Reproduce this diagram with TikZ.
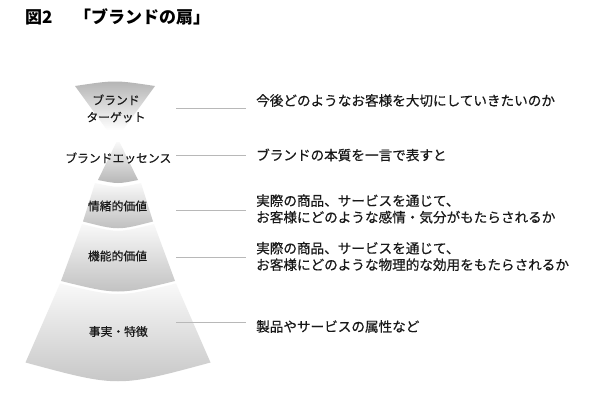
\documentclass[tikz,border=0pt]{standalone}
\usepackage{fontspec}
\setmainfont{Noto Sans CJK JP}
\newfontfamily\medfont{Noto Sans CJK JP}[FakeBold=0.5]
\definecolor{lineg}{gray}{0.72}
\definecolor{fanlight}{gray}{0.975}
\definecolor{fandark}{gray}{0.76}
\tikzset{
  lbl/.style={font=\medfont\fontsize{11.8}{17}\selectfont, inner sep=0pt, align=center, text=black!90},
  desc/.style={font=\medfont\fontsize{13.6}{16.5}\selectfont, anchor=west, inner sep=0pt, align=left, text=black!90},
  conn/.style={draw=lineg, line width=0.8pt},
  fan/.style={top color=fanlight, bottom color=fandark, draw=none},
  ttl/.style={font=\fontsize{17}{20}\selectfont\bfseries, anchor=west, inner sep=0pt}
}
\begin{document}
\begin{tikzpicture}[x=1pt,y=-1pt]
\useasboundingbox (0,0) rectangle (600,415);
\fill[white] (0,0) rectangle (600,415);

% title
\node[ttl] (fig) at (25,17) {図2};
\node[ttl] (title) at (74,17) {「ブランドの扇」};

% fan pieces
\begin{scope}
  \clip (75,86) .. controls (115,80) .. (155,86) -- (115,141) -- cycle;
  \shade[top color=black!30, bottom color=white] (70,80) rectangle (160,130);
\end{scope}
\shade[fan, bottom color=black!29] (116.5,142) -- (119.5,142) -- (138,180) .. controls (118,184) .. (98,180) -- cycle;
\shade[fan, bottom color=black!26] (95,183) .. controls (118,188) .. (141,183) -- (153,221.5) .. controls (118,230.5) .. (83,221.5) -- cycle;
\shade[fan, bottom color=black!25] (82,224) .. controls (118,233) .. (154,224) -- (175,281) .. controls (118,295) .. (61,281) -- cycle;
\shade[fan, bottom color=black!23] (60,283.5) .. controls (118,297.5) .. (176,283.5) -- (210.5,362.5) .. controls (118,387.5) .. (25.5,362.5) -- cycle;

% fan labels
\node[lbl] (target) at (116,108.5) {ブランド\\ターゲット};
\node[lbl] (essence) at (118.3,158) {ブランドエッセンス};
\node[lbl] (emotional) at (117.5,206) {情緒的価値};
\node[lbl] (functional) at (117.5,256) {機能的価値};
\node[lbl] (facts) at (118.3,331.5) {事実・特徴};

% connector end points
\coordinate (a1) at (176,108.3);  \coordinate (a2) at (245.7,108.3);
\coordinate (b1) at (176,155.7);  \coordinate (b2) at (245.7,155.7);
\coordinate (c1) at (176,210);    \coordinate (c2) at (245.7,210);
\coordinate (d1) at (176,257.5);  \coordinate (d2) at (245.7,257.5);
\coordinate (e1) at (176,322.5);  \coordinate (e2) at (245.7,322.5);
\draw[conn] (a1) -- (a2);
\draw[conn] (b1) -- (b2);
\draw[conn] (c1) -- (c2);
\draw[conn] (d1) -- (d2);
\draw[conn] (e1) -- (e2);

% descriptions
\node[desc] (ta) at (256,100.5) {今後どのようなお客様を大切にしていきたいのか};
\node[desc] (tb) at (256,155) {ブランドの本質を一言で表すと};
\node[desc] (tc) at (256,209) {実際の商品、サービスを通じて、\\お客様にどのような感情・気分がもたらされるか};
\node[desc] (td) at (256,256.5) {実際の商品、サービスを通じて、\\お客様にどのような物理的な効用をもたらされるか};
\node[desc] (te) at (256,326.5) {製品やサービスの属性など};
\end{tikzpicture}
\end{document}
